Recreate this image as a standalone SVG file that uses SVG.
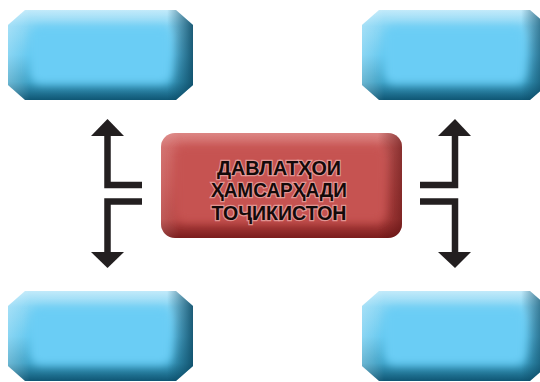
<svg xmlns="http://www.w3.org/2000/svg" xmlns:xlink="http://www.w3.org/1999/xlink" width="540" height="382" viewBox="0 0 540 382">
<style>
.arrow{fill:none;stroke:#231f20;stroke-width:6.5;stroke-linejoin:miter}
.head{fill:#231f20}
.label{font-family:"Liberation Sans","DejaVu Sans",Arial,sans-serif;font-weight:bold;font-size:21px;fill:#140a0a;text-anchor:middle;stroke:#e9a9a7;stroke-width:2.5;stroke-opacity:0.8;paint-order:stroke}
</style>
<defs>
<linearGradient id="bv" x1="0" y1="0" x2="0" y2="1">
<stop offset="0" stop-color="#c2eafa"/>
<stop offset="0.18" stop-color="#86d5f4"/>
<stop offset="0.5" stop-color="#64c8ef"/>
<stop offset="0.8" stop-color="#3b9fc4"/>
<stop offset="1" stop-color="#0f5674"/>
</linearGradient>
<linearGradient id="bh" x1="0" y1="0" x2="1" y2="0">
<stop offset="0" stop-color="#ffffff" stop-opacity="0.25"/>
<stop offset="0.12" stop-color="#ffffff" stop-opacity="0"/>
<stop offset="0.86" stop-color="#0a4660" stop-opacity="0"/>
<stop offset="1" stop-color="#0a4660" stop-opacity="0.85"/>
</linearGradient>
<linearGradient id="rv" x1="0" y1="0" x2="0" y2="1">
<stop offset="0" stop-color="#dc8583"/>
<stop offset="0.14" stop-color="#cd605e"/>
<stop offset="0.5" stop-color="#c55250"/>
<stop offset="0.82" stop-color="#b64442"/>
<stop offset="1" stop-color="#7a1c1c"/>
</linearGradient>
<linearGradient id="rh" x1="0" y1="0" x2="1" y2="0">
<stop offset="0" stop-color="#ffffff" stop-opacity="0.12"/>
<stop offset="0.08" stop-color="#ffffff" stop-opacity="0"/>
<stop offset="0.9" stop-color="#5a1010" stop-opacity="0"/>
<stop offset="1" stop-color="#5a1010" stop-opacity="0.6"/>
</linearGradient>
<filter id="blur" x="-20%" y="-20%" width="140%" height="140%"><feGaussianBlur stdDeviation="4"/></filter>
<clipPath id="oct"><path d="M17,0 H168 L185,15 V75 L168,90 H17 L0,75 V15 Z"/></clipPath>
<clipPath id="rr"><rect x="0" y="0" width="241" height="105" rx="14"/></clipPath>
<g id="bluebox">
<path d="M17,0 H168 L185,15 V75 L168,90 H17 L0,75 V15 Z" fill="url(#bv)"/>
<path d="M17,0 H168 L185,15 V75 L168,90 H17 L0,75 V15 Z" fill="url(#bh)"/>
<g clip-path="url(#oct)"><rect x="22" y="16" width="142" height="58" rx="10" fill="#6acdf5" filter="url(#blur)"/></g>
</g>
</defs>
<g id="node-tl"><use xlink:href="#bluebox" x="8" y="10"/></g>
<g id="node-tr"><use xlink:href="#bluebox" x="362" y="10"/></g>
<g id="node-bl"><use xlink:href="#bluebox" x="8" y="291"/></g>
<g id="node-br"><use xlink:href="#bluebox" x="362" y="291"/></g>
<g id="node-center" transform="translate(161,133)">
<rect x="0" y="0" width="241" height="105" rx="14" fill="url(#rv)"/>
<rect x="0" y="0" width="241" height="105" rx="14" fill="url(#rh)"/>
<g clip-path="url(#rr)"><rect x="14" y="13" width="211" height="76" rx="10" fill="#c65351" filter="url(#blur)"/></g>
<text class="label" x="118" y="42" textLength="124" lengthAdjust="spacingAndGlyphs">ДАВЛАТҲОИ</text>
<text class="label" x="118" y="64" textLength="136" lengthAdjust="spacingAndGlyphs">ҲАМСАРҲАДИ</text>
<text class="label" x="118" y="87" textLength="135" lengthAdjust="spacingAndGlyphs">ТОҶИКИСТОН</text>
</g>
<g id="connectors">
<path class="arrow" d="M142,185 H107.5 V134"/>
<polygon class="head" points="107.5,119 91,136 124,136"/>
<path class="arrow" d="M142,201.5 H107.5 V254"/>
<polygon class="head" points="91,252 124,252 107.5,268"/>
<path class="arrow" d="M420,185 H455 V134"/>
<polygon class="head" points="455,119 438,136 471,136"/>
<path class="arrow" d="M420,201.5 H455 V254"/>
<polygon class="head" points="438,252 471,252 455,268"/>
</g>
</svg>
